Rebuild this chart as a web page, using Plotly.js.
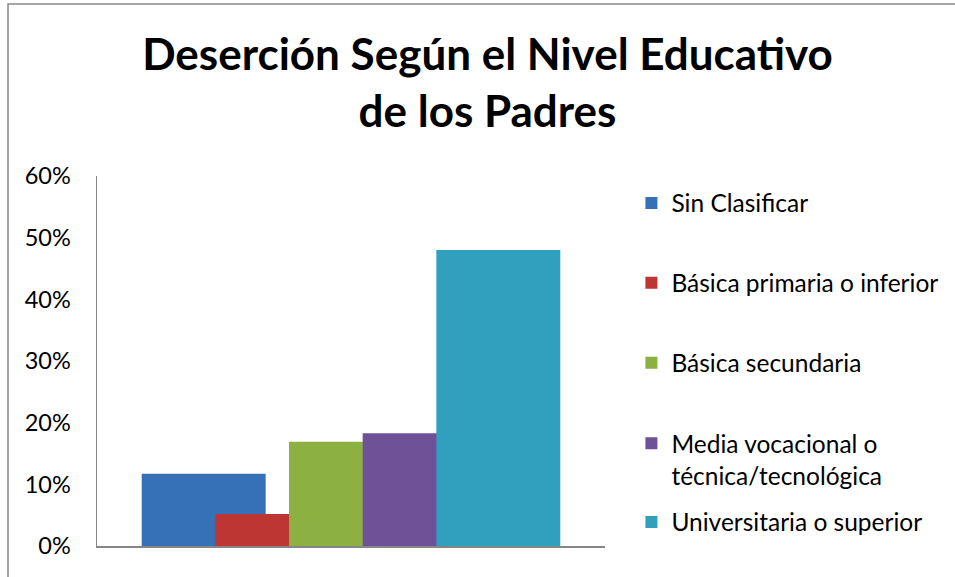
<!DOCTYPE html>
<html>
<head>
<meta charset="utf-8">
<script src="https://cdn.plot.ly/plotly-3.0.1.min.js"></script>
<style>
  html, body { margin: 0; padding: 0; background: #ffffff; }
  #chart { width: 955px; height: 577px; }
</style>
</head>
<body>
<div id="chart"></div>
<script>
// ---- Data ----
const seriesNames = [
  "Sin Clasificar",
  "Básica primaria o inferior",
  "Básica secundaria",
  "Media vocacional o<br>técnica/tecnológica",
  "Universitaria o superior"
];
const seriesValues = [0.117, 0.052, 0.169, 0.183, 0.480];
const yTickValues = [0, 0.1, 0.2, 0.3, 0.4, 0.5, 0.6];
const yTickLabels = ["0%", "10%", "20%", "30%", "40%", "50%", "60%"];
const chartTitle = "Deserción Según el Nivel Educativo<br>de los Padres";

// ---- Styles ----
const seriesColors = ["#3670B7", "#BD3633", "#8CB042", "#6F5198", "#30A0BE"];
const legendYs = [0.927, 0.711, 0.495, 0.234, 0.065];
const barWidth = 0.244;
const barStep = 0.145;
const firstOffset = -(barWidth + barStep * (seriesValues.length - 1)) / 2;
const FONT = "Lato, 'Open Sans', sans-serif";

const traces = seriesNames.map((name, i) => ({
  type: "bar",
  name: name,
  x: [0],
  y: [seriesValues[i]],
  width: [barWidth],
  offset: [firstOffset + i * barStep],
  marker: { color: seriesColors[i], line: { width: 0 } },
  legend: i === 0 ? "legend" : "legend" + (i + 1),
  showlegend: true,
  hoverinfo: "name+y"
}));

function legendAt(y) {
  return {
    visible: true,
    x: 1.052, xanchor: "left",
    y: y, yanchor: "middle",
    valign: "top",
    bgcolor: "rgba(0,0,0,0)",
    borderwidth: 0,
    font: { family: FONT, size: 24.5, color: "#000000" },
    itemclick: false, itemdoubleclick: false
  };
}

const layout = {
  width: 955,
  height: 577,
  showlegend: true,
  margin: { l: 97, r: 350, t: 176, b: 31, pad: 0, autoexpand: false },
  paper_bgcolor: "#ffffff",
  plot_bgcolor: "#ffffff",
  barmode: "overlay",
  font: { family: FONT, color: "#000000" },
  title: {
    text: chartTitle,
    font: { family: FONT, size: 44, color: "#000000", weight: "bold" },
    x: 0.5105, xanchor: "center",
    y: 0.879, yanchor: "top",
    yref: "container"
  },
  xaxis: {
    range: [-0.5, 0.5],
    showticklabels: false,
    showgrid: false,
    zeroline: false,
    showline: true,
    linecolor: "#868686",
    linewidth: 1.5,
    ticks: "",
    fixedrange: true
  },
  yaxis: {
    range: [0, 0.6],
    tickvals: yTickValues,
    ticktext: yTickLabels,
    showgrid: false,
    zeroline: false,
    showline: true,
    linecolor: "#868686",
    linewidth: 1.5,
    ticks: "",
    ticklabelstandoff: 20,
    tickfont: { family: FONT, size: 23.5, color: "#000000" },
    fixedrange: true
  },
  legend: legendAt(legendYs[0]),
  legend2: legendAt(legendYs[1]),
  legend3: legendAt(legendYs[2]),
  legend4: legendAt(legendYs[3]),
  legend5: legendAt(legendYs[4]),
  shapes: [{
    type: "rect", xref: "paper", yref: "paper",
    x0: -0.1752, x1: 1.75, y0: -0.2, y1: 1.4649,
    line: { color: "#888888", width: 1.5 },
    fillcolor: "rgba(0,0,0,0)",
    layer: "below"
  }]
};

Plotly.newPlot("chart", traces, layout, { displayModeBar: false, staticPlot: true });
</script>
</body>
</html>
